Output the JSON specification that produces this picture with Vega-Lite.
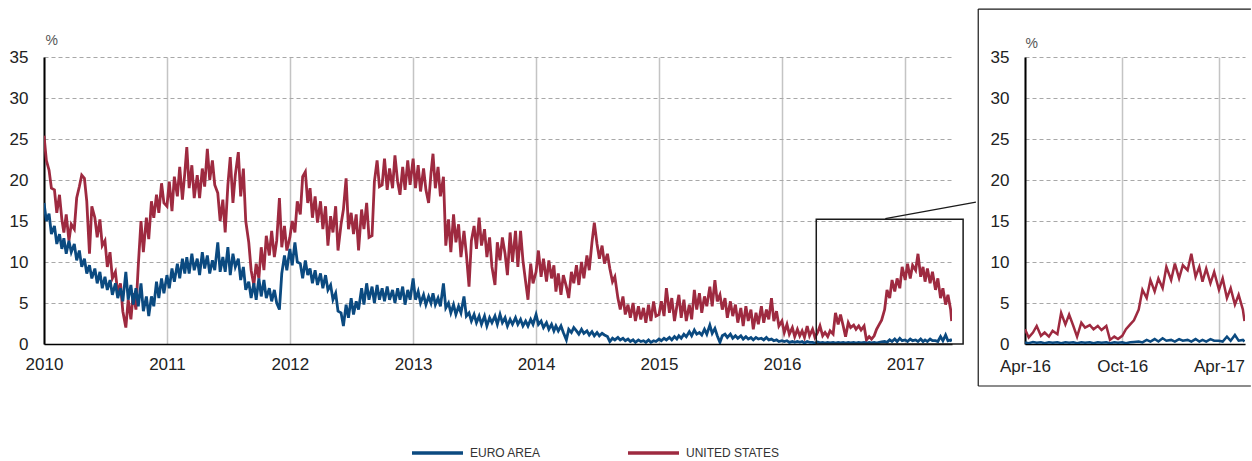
{
  "$schema": "https://vega.github.io/schema/vega-lite/v6.json",
  "padding": {"left": 9, "top": 8, "right": 0, "bottom": 0},
  "background": "white",
  "spacing": 0,
  "bounds": "full",
  "data": {"values": [
    {"d":"2010-01-01","e":17.2,"u":25.4},{"d":"2010-01-08","e":15.0,"u":22.4},{"d":"2010-01-16","e":15.9,"u":21.2},{"d":"2010-01-23","e":13.4,"u":19.0},
    {"d":"2010-02-01","e":14.4,"u":18.8},{"d":"2010-02-08","e":12.2,"u":16.0},{"d":"2010-02-16","e":13.4,"u":18.2},{"d":"2010-02-23","e":11.6,"u":15.2},
    {"d":"2010-03-01","e":12.9,"u":13.6},{"d":"2010-03-08","e":11.0,"u":15.8},{"d":"2010-03-16","e":12.6,"u":12.6},{"d":"2010-03-23","e":11.2,"u":14.6},
    {"d":"2010-04-01","e":12.2,"u":14.0},{"d":"2010-04-08","e":10.2,"u":17.8},{"d":"2010-04-16","e":11.4,"u":19.2},{"d":"2010-04-23","e":9.4,"u":20.6},
    {"d":"2010-05-01","e":10.4,"u":20.2},{"d":"2010-05-08","e":8.6,"u":17.4},{"d":"2010-05-16","e":9.6,"u":11.0},{"d":"2010-05-23","e":8.0,"u":16.8},
    {"d":"2010-06-01","e":9.2,"u":15.4},{"d":"2010-06-08","e":7.4,"u":13.0},{"d":"2010-06-16","e":8.8,"u":15.2},{"d":"2010-06-23","e":6.8,"u":12.0},
    {"d":"2010-07-01","e":8.2,"u":12.6},{"d":"2010-07-08","e":6.6,"u":9.4},{"d":"2010-07-16","e":7.8,"u":11.2},{"d":"2010-07-23","e":6.0,"u":8.0},
    {"d":"2010-08-01","e":7.4,"u":8.8},{"d":"2010-08-08","e":5.6,"u":6.2},{"d":"2010-08-16","e":6.8,"u":7.4},{"d":"2010-08-23","e":5.2,"u":4.0},
    {"d":"2010-09-01","e":8.8,"u":2.0},{"d":"2010-09-08","e":5.4,"u":5.4},{"d":"2010-09-16","e":7.2,"u":3.0},{"d":"2010-09-23","e":4.8,"u":6.2},
    {"d":"2010-10-01","e":6.8,"u":4.2},{"d":"2010-10-08","e":4.6,"u":9.6},{"d":"2010-10-16","e":7.4,"u":15.0},{"d":"2010-10-23","e":4.0,"u":11.2},
    {"d":"2010-11-01","e":5.8,"u":15.4},{"d":"2010-11-08","e":3.4,"u":12.8},{"d":"2010-11-16","e":5.8,"u":17.4},{"d":"2010-11-23","e":4.6,"u":15.4},
    {"d":"2010-12-01","e":7.6,"u":18.2},{"d":"2010-12-08","e":5.6,"u":16.0},{"d":"2010-12-16","e":8.0,"u":19.6},{"d":"2010-12-23","e":6.2,"u":17.2},
    {"d":"2011-01-01","e":8.4,"u":16.8},{"d":"2011-01-08","e":6.8,"u":19.8},{"d":"2011-01-16","e":9.2,"u":16.2},{"d":"2011-01-23","e":7.6,"u":20.4},
    {"d":"2011-02-01","e":9.8,"u":18.0},{"d":"2011-02-08","e":8.0,"u":21.6},{"d":"2011-02-16","e":10.4,"u":17.6},{"d":"2011-02-23","e":8.6,"u":20.8},
    {"d":"2011-03-01","e":10.6,"u":24.0},{"d":"2011-03-08","e":8.6,"u":19.0},{"d":"2011-03-16","e":11.0,"u":21.8},{"d":"2011-03-23","e":9.0,"u":17.8},
    {"d":"2011-04-01","e":10.4,"u":20.6},{"d":"2011-04-08","e":8.4,"u":17.8},{"d":"2011-04-16","e":11.2,"u":21.4},{"d":"2011-04-23","e":9.2,"u":19.2},
    {"d":"2011-05-01","e":10.8,"u":23.8},{"d":"2011-05-08","e":8.6,"u":20.0},{"d":"2011-05-16","e":10.2,"u":22.4},{"d":"2011-05-23","e":9.0,"u":19.4},
    {"d":"2011-06-01","e":12.4,"u":18.4},{"d":"2011-06-08","e":8.8,"u":15.0},{"d":"2011-06-16","e":10.6,"u":17.6},{"d":"2011-06-23","e":8.8,"u":13.6},
    {"d":"2011-07-01","e":11.8,"u":19.4},{"d":"2011-07-08","e":8.4,"u":22.8},{"d":"2011-07-16","e":11.0,"u":17.2},{"d":"2011-07-23","e":9.4,"u":20.6},
    {"d":"2011-08-01","e":10.4,"u":23.4},{"d":"2011-08-08","e":7.8,"u":18.0},{"d":"2011-08-16","e":9.4,"u":21.4},{"d":"2011-08-23","e":6.6,"u":15.0},
    {"d":"2011-09-01","e":7.6,"u":12.4},{"d":"2011-09-08","e":5.6,"u":9.0},{"d":"2011-09-16","e":7.4,"u":7.2},{"d":"2011-09-23","e":5.4,"u":9.8},
    {"d":"2011-10-01","e":8.0,"u":8.0},{"d":"2011-10-08","e":5.8,"u":11.8},{"d":"2011-10-16","e":7.8,"u":9.0},{"d":"2011-10-23","e":5.6,"u":13.2},
    {"d":"2011-11-01","e":6.8,"u":10.8},{"d":"2011-11-08","e":5.2,"u":13.8},{"d":"2011-11-16","e":6.6,"u":10.6},{"d":"2011-11-23","e":5.0,"u":12.6},
    {"d":"2011-12-01","e":4.2,"u":17.8},{"d":"2011-12-08","e":8.6,"u":11.8},{"d":"2011-12-16","e":10.8,"u":14.4},{"d":"2011-12-23","e":9.0,"u":11.4},
    {"d":"2012-01-01","e":11.6,"u":13.0},{"d":"2012-01-08","e":9.6,"u":15.0},{"d":"2012-01-16","e":12.4,"u":13.6},{"d":"2012-01-23","e":10.0,"u":17.4},
    {"d":"2012-02-01","e":9.8,"u":15.8},{"d":"2012-02-08","e":8.0,"u":20.4},{"d":"2012-02-16","e":10.2,"u":21.0},{"d":"2012-02-23","e":8.4,"u":17.2},
    {"d":"2012-03-01","e":9.2,"u":19.0},{"d":"2012-03-08","e":7.4,"u":15.4},{"d":"2012-03-16","e":9.0,"u":18.0},{"d":"2012-03-23","e":7.2,"u":14.8},
    {"d":"2012-04-01","e":8.6,"u":17.4},{"d":"2012-04-08","e":6.8,"u":14.0},{"d":"2012-04-16","e":8.4,"u":16.8},{"d":"2012-04-23","e":6.6,"u":12.0},
    {"d":"2012-05-01","e":7.2,"u":15.6},{"d":"2012-05-08","e":5.4,"u":13.6},{"d":"2012-05-16","e":6.2,"u":16.8},{"d":"2012-05-23","e":4.0,"u":11.4},
    {"d":"2012-06-01","e":3.8,"u":14.6},{"d":"2012-06-08","e":2.2,"u":16.4},{"d":"2012-06-16","e":4.8,"u":20.2},{"d":"2012-06-23","e":3.2,"u":14.0},
    {"d":"2012-07-01","e":5.6,"u":16.0},{"d":"2012-07-08","e":3.6,"u":13.4},{"d":"2012-07-16","e":5.2,"u":15.8},{"d":"2012-07-23","e":4.2,"u":11.4},
    {"d":"2012-08-01","e":6.8,"u":16.4},{"d":"2012-08-08","e":4.8,"u":14.0},{"d":"2012-08-16","e":7.4,"u":17.2},{"d":"2012-08-23","e":5.4,"u":13.0},
    {"d":"2012-09-01","e":7.0,"u":13.2},{"d":"2012-09-08","e":5.0,"u":19.8},{"d":"2012-09-16","e":7.2,"u":22.4},{"d":"2012-09-23","e":5.4,"u":19.2},
    {"d":"2012-10-01","e":6.8,"u":19.4},{"d":"2012-10-08","e":5.2,"u":22.6},{"d":"2012-10-16","e":7.0,"u":18.8},{"d":"2012-10-23","e":5.4,"u":21.4},
    {"d":"2012-11-01","e":6.6,"u":19.0},{"d":"2012-11-08","e":5.0,"u":23.0},{"d":"2012-11-16","e":6.8,"u":19.8},{"d":"2012-11-23","e":5.4,"u":18.2},
    {"d":"2012-12-01","e":7.0,"u":21.6},{"d":"2012-12-08","e":4.8,"u":18.8},{"d":"2012-12-16","e":6.6,"u":22.4},{"d":"2012-12-23","e":5.4,"u":19.4},
    {"d":"2013-01-01","e":8.0,"u":22.6},{"d":"2013-01-08","e":5.4,"u":19.0},{"d":"2013-01-16","e":6.4,"u":21.8},{"d":"2013-01-23","e":5.0,"u":18.6},
    {"d":"2013-02-01","e":6.0,"u":21.4},{"d":"2013-02-08","e":4.8,"u":18.8},{"d":"2013-02-16","e":5.8,"u":17.2},{"d":"2013-02-23","e":5.0,"u":20.8},
    {"d":"2013-03-01","e":6.2,"u":23.2},{"d":"2013-03-08","e":4.8,"u":19.0},{"d":"2013-03-16","e":5.6,"u":21.6},{"d":"2013-03-23","e":4.6,"u":18.0},
    {"d":"2013-04-01","e":7.4,"u":20.4},{"d":"2013-04-08","e":4.4,"u":12.0},{"d":"2013-04-16","e":5.0,"u":15.2},{"d":"2013-04-23","e":3.8,"u":11.2},
    {"d":"2013-05-01","e":4.8,"u":15.8},{"d":"2013-05-08","e":3.6,"u":12.4},{"d":"2013-05-16","e":4.6,"u":14.6},{"d":"2013-05-23","e":3.8,"u":10.6},
    {"d":"2013-06-01","e":5.8,"u":13.8},{"d":"2013-06-08","e":3.4,"u":11.0},{"d":"2013-06-16","e":3.8,"u":7.0},{"d":"2013-06-23","e":2.8,"u":12.6},
    {"d":"2013-07-01","e":3.6,"u":14.4},{"d":"2013-07-08","e":2.6,"u":11.6},{"d":"2013-07-16","e":3.4,"u":15.4},{"d":"2013-07-23","e":2.4,"u":12.0},
    {"d":"2013-08-01","e":3.4,"u":14.0},{"d":"2013-08-08","e":2.2,"u":10.6},{"d":"2013-08-16","e":3.2,"u":13.0},{"d":"2013-08-23","e":2.6,"u":9.4},
    {"d":"2013-09-01","e":3.4,"u":7.2},{"d":"2013-09-08","e":2.4,"u":12.4},{"d":"2013-09-16","e":3.6,"u":10.2},{"d":"2013-09-23","e":2.6,"u":13.0},
    {"d":"2013-10-01","e":3.2,"u":11.0},{"d":"2013-10-08","e":2.2,"u":8.4},{"d":"2013-10-16","e":3.0,"u":13.6},{"d":"2013-10-23","e":2.4,"u":10.0},
    {"d":"2013-11-01","e":3.2,"u":13.8},{"d":"2013-11-08","e":2.4,"u":9.4},{"d":"2013-11-16","e":3.0,"u":13.8},{"d":"2013-11-23","e":2.2,"u":10.2},
    {"d":"2013-12-01","e":2.8,"u":7.6},{"d":"2013-12-08","e":2.2,"u":5.4},{"d":"2013-12-16","e":3.0,"u":9.8},{"d":"2013-12-23","e":2.4,"u":7.4},
    {"d":"2014-01-01","e":3.6,"u":8.8},{"d":"2014-01-08","e":2.4,"u":11.4},{"d":"2014-01-16","e":2.8,"u":8.2},{"d":"2014-01-23","e":2.0,"u":10.4},
    {"d":"2014-02-01","e":2.6,"u":7.6},{"d":"2014-02-08","e":1.8,"u":10.2},{"d":"2014-02-16","e":2.4,"u":8.0},{"d":"2014-02-23","e":1.6,"u":9.6},
    {"d":"2014-03-01","e":2.2,"u":6.4},{"d":"2014-03-08","e":1.6,"u":8.6},{"d":"2014-03-16","e":2.2,"u":6.0},{"d":"2014-03-23","e":1.4,"u":8.4},
    {"d":"2014-04-01","e":0.5,"u":7.0},{"d":"2014-04-08","e":1.8,"u":5.6},{"d":"2014-04-16","e":1.4,"u":8.8},{"d":"2014-04-23","e":2.0,"u":7.4},
    {"d":"2014-05-01","e":1.6,"u":9.6},{"d":"2014-05-08","e":1.2,"u":7.2},{"d":"2014-05-16","e":1.8,"u":10.0},{"d":"2014-05-23","e":1.3,"u":8.0},
    {"d":"2014-06-01","e":1.6,"u":10.8},{"d":"2014-06-08","e":1.1,"u":9.0},{"d":"2014-06-16","e":1.5,"u":12.4},{"d":"2014-06-23","e":1.0,"u":14.8},
    {"d":"2014-07-01","e":1.4,"u":12.2},{"d":"2014-07-08","e":1.0,"u":10.4},{"d":"2014-07-16","e":1.3,"u":12.0},{"d":"2014-07-23","e":1.1,"u":9.8},
    {"d":"2014-08-01","e":0.9,"u":11.0},{"d":"2014-08-08","e":0.3,"u":9.2},{"d":"2014-08-16","e":0.7,"u":7.6},{"d":"2014-08-23","e":0.5,"u":8.2},
    {"d":"2014-09-01","e":0.8,"u":5.6},{"d":"2014-09-08","e":0.5,"u":4.2},{"d":"2014-09-16","e":0.7,"u":5.8},{"d":"2014-09-23","e":0.4,"u":3.6},
    {"d":"2014-10-01","e":0.6,"u":4.8},{"d":"2014-10-08","e":0.3,"u":3.2},{"d":"2014-10-16","e":0.5,"u":5.0},{"d":"2014-10-23","e":0.2,"u":2.8},
    {"d":"2014-11-01","e":0.5,"u":4.6},{"d":"2014-11-08","e":0.3,"u":3.0},{"d":"2014-11-16","e":0.4,"u":4.4},{"d":"2014-11-23","e":0.2,"u":2.6},
    {"d":"2014-12-01","e":0.5,"u":4.8},{"d":"2014-12-08","e":0.2,"u":2.8},{"d":"2014-12-16","e":0.4,"u":5.2},{"d":"2014-12-23","e":0.3,"u":3.4},
    {"d":"2015-01-01","e":0.6,"u":3.6},{"d":"2015-01-08","e":0.4,"u":5.2},{"d":"2015-01-16","e":0.7,"u":3.4},{"d":"2015-01-23","e":0.5,"u":6.8},
    {"d":"2015-02-01","e":0.8,"u":3.8},{"d":"2015-02-08","e":0.5,"u":5.6},{"d":"2015-02-16","e":0.9,"u":2.8},{"d":"2015-02-23","e":0.6,"u":4.6},
    {"d":"2015-03-01","e":1.0,"u":6.0},{"d":"2015-03-08","e":0.7,"u":3.2},{"d":"2015-03-16","e":1.2,"u":5.4},{"d":"2015-03-23","e":0.9,"u":2.8},
    {"d":"2015-04-01","e":1.5,"u":4.8},{"d":"2015-04-08","e":1.0,"u":3.0},{"d":"2015-04-16","e":1.7,"u":6.6},{"d":"2015-04-23","e":1.2,"u":4.2},
    {"d":"2015-05-01","e":1.4,"u":6.2},{"d":"2015-05-08","e":1.1,"u":3.8},{"d":"2015-05-16","e":1.8,"u":5.8},{"d":"2015-05-23","e":1.2,"u":4.6},
    {"d":"2015-06-01","e":2.3,"u":7.0},{"d":"2015-06-08","e":1.3,"u":4.6},{"d":"2015-06-16","e":1.9,"u":7.8},{"d":"2015-06-23","e":1.0,"u":5.2},
    {"d":"2015-07-01","e":0.2,"u":6.0},{"d":"2015-07-08","e":1.0,"u":4.2},{"d":"2015-07-16","e":1.2,"u":5.6},{"d":"2015-07-23","e":0.8,"u":3.2},
    {"d":"2015-08-01","e":1.2,"u":5.2},{"d":"2015-08-08","e":0.7,"u":3.4},{"d":"2015-08-16","e":1.0,"u":4.8},{"d":"2015-08-23","e":0.7,"u":2.6},
    {"d":"2015-09-01","e":1.0,"u":4.4},{"d":"2015-09-08","e":0.6,"u":2.2},{"d":"2015-09-16","e":0.9,"u":4.6},{"d":"2015-09-23","e":0.6,"u":2.8},
    {"d":"2015-10-01","e":0.8,"u":4.2},{"d":"2015-10-08","e":0.5,"u":1.8},{"d":"2015-10-16","e":0.8,"u":3.8},{"d":"2015-10-23","e":0.6,"u":2.4},
    {"d":"2015-11-01","e":0.7,"u":4.6},{"d":"2015-11-08","e":0.5,"u":2.6},{"d":"2015-11-16","e":0.8,"u":4.2},{"d":"2015-11-23","e":0.5,"u":3.0},
    {"d":"2015-12-01","e":0.6,"u":5.6},{"d":"2015-12-08","e":0.4,"u":2.8},{"d":"2015-12-16","e":0.5,"u":4.0},{"d":"2015-12-23","e":0.3,"u":2.2},
    {"d":"2016-01-01","e":0.4,"u":2.8},{"d":"2016-01-08","e":0.3,"u":1.4},{"d":"2016-01-16","e":0.4,"u":2.4},{"d":"2016-01-23","e":0.2,"u":1.2},
    {"d":"2016-02-01","e":0.3,"u":2.0},{"d":"2016-02-08","e":0.2,"u":0.9},{"d":"2016-02-16","e":0.3,"u":1.8},{"d":"2016-02-23","e":0.2,"u":1.0},
    {"d":"2016-03-01","e":0.3,"u":1.6},{"d":"2016-03-08","e":0.1,"u":0.8},{"d":"2016-03-16","e":0.3,"u":2.2},{"d":"2016-03-23","e":0.2,"u":1.0},
    {"d":"2016-04-01","e":0.2,"u":1.8},{"d":"2016-04-08","e":0.1,"u":0.8},{"d":"2016-04-16","e":0.25,"u":1.4},{"d":"2016-04-23","e":0.15,"u":2.2},
    {"d":"2016-05-01","e":0.2,"u":1.0},{"d":"2016-05-08","e":0.1,"u":1.4},{"d":"2016-05-16","e":0.2,"u":0.9},{"d":"2016-05-23","e":0.15,"u":1.6},
    {"d":"2016-06-01","e":0.2,"u":1.2},{"d":"2016-06-08","e":0.1,"u":3.8},{"d":"2016-06-16","e":0.2,"u":2.4},{"d":"2016-06-23","e":0.15,"u":3.6},
    {"d":"2016-07-01","e":0.2,"u":2.2},{"d":"2016-07-08","e":0.1,"u":0.9},{"d":"2016-07-16","e":0.2,"u":2.6},{"d":"2016-07-23","e":0.15,"u":2.0},
    {"d":"2016-08-01","e":0.2,"u":2.3},{"d":"2016-08-08","e":0.1,"u":1.8},{"d":"2016-08-16","e":0.2,"u":2.2},{"d":"2016-08-23","e":0.15,"u":1.7},
    {"d":"2016-09-01","e":0.2,"u":2.2},{"d":"2016-09-08","e":0.1,"u":0.5},{"d":"2016-09-16","e":0.2,"u":0.9},{"d":"2016-09-23","e":0.15,"u":0.6},
    {"d":"2016-10-01","e":0.2,"u":1.0},{"d":"2016-10-08","e":0.1,"u":1.8},{"d":"2016-10-16","e":0.2,"u":2.4},{"d":"2016-10-23","e":0.25,"u":2.9},
    {"d":"2016-11-01","e":0.3,"u":4.2},{"d":"2016-11-08","e":0.2,"u":6.6},{"d":"2016-11-16","e":0.5,"u":5.6},{"d":"2016-11-23","e":0.3,"u":7.8},
    {"d":"2016-12-01","e":0.6,"u":6.4},{"d":"2016-12-08","e":0.3,"u":8.0},{"d":"2016-12-16","e":0.7,"u":6.8},{"d":"2016-12-23","e":0.4,"u":9.4},
    {"d":"2017-01-01","e":0.5,"u":7.8},{"d":"2017-01-08","e":0.3,"u":9.8},{"d":"2017-01-16","e":0.6,"u":8.0},{"d":"2017-01-23","e":0.4,"u":9.6},
    {"d":"2017-02-01","e":0.5,"u":9.0},{"d":"2017-02-08","e":0.3,"u":11.0},{"d":"2017-02-16","e":0.6,"u":8.2},{"d":"2017-02-23","e":0.3,"u":9.4},
    {"d":"2017-03-01","e":0.5,"u":7.6},{"d":"2017-03-08","e":0.3,"u":9.2},{"d":"2017-03-16","e":0.6,"u":7.4},{"d":"2017-03-23","e":0.4,"u":8.8},
    {"d":"2017-04-01","e":0.4,"u":6.6},{"d":"2017-04-08","e":0.3,"u":8.0},{"d":"2017-04-16","e":0.9,"u":5.6},{"d":"2017-04-23","e":0.4,"u":6.8},
    {"d":"2017-05-01","e":1.1,"u":4.8},{"d":"2017-05-08","e":0.4,"u":6.0},{"d":"2017-05-16","e":0.5,"u":4.2},{"d":"2017-05-19","e":0.3,"u":2.8}
  ]},
  "hconcat": [
    {
      "width": 908,
      "height": 287,
      "layer": [
        {
          "transform": [{"fold": ["u", "e"], "as": ["s", "v"]}],
          "mark": {"type": "line", "strokeWidth": 2.8, "strokeJoin": "miter", "clip": true},
          "encoding": {
            "x": {"field": "d", "type": "temporal",
                  "scale": {"domain": [{"year": 2010, "month": 1, "date": 1}, {"year": 2017, "month": 5, "date": 20}], "nice": false},
                  "axis": {"title": null, "format": "%Y", "grid": true,
                           "values": [{"year": 2010, "month": 1, "date": 1}, {"year": 2011, "month": 1, "date": 1}, {"year": 2012, "month": 1, "date": 1}, {"year": 2013, "month": 1, "date": 1}, {"year": 2014, "month": 1, "date": 1}, {"year": 2015, "month": 1, "date": 1}, {"year": 2016, "month": 1, "date": 1}, {"year": 2017, "month": 1, "date": 1}]}},
            "y": {"field": "v", "type": "quantitative",
                  "scale": {"domain": [0, 35], "nice": false},
                  "axis": {"title": "%", "titleX": 1, "titleY": -13, "values": [0, 5, 10, 15, 20, 25, 30, 35]}},
            "color": {"field": "s", "type": "nominal",
                      "scale": {"domain": ["e", "u"], "range": ["#0b4a80", "#9e2a40"]},
                      "legend": {"title": null, "orient": "none", "legendX": 366, "legendY": 388, "direction": "horizontal",
                                 "labelExpr": "datum.value == 'e' ? 'EURO AREA' : 'UNITED STATES'"}}
          }
        },
        {
          "data": {"values": [{"d": "2016-04-12", "d2": "2017-06-22", "v": 0, "v2": 15.2}]},
          "mark": {"type": "rect", "fill": "transparent", "stroke": "#1a1a1a", "strokeWidth": 1.5, "clip": false},
          "encoding": {
            "x": {"field": "d", "type": "temporal", "scale": {"domain": [{"year": 2010, "month": 1, "date": 1}, {"year": 2017, "month": 5, "date": 20}], "nice": false}},
            "x2": {"field": "d2"},
            "y": {"field": "v", "type": "quantitative", "scale": {"domain": [0, 35], "nice": false}},
            "y2": {"field": "v2"}
          }
        },
        {
          "data": {"values": [{"d": "2016-11-03", "d2": "2017-07-30", "v": 15.3, "v2": 17.3}]},
          "mark": {"type": "rule", "stroke": "#1a1a1a", "strokeWidth": 1.2, "clip": false},
          "encoding": {
            "x": {"field": "d", "type": "temporal", "scale": {"domain": [{"year": 2010, "month": 1, "date": 1}, {"year": 2017, "month": 5, "date": 20}], "nice": false}},
            "x2": {"field": "d2"},
            "y": {"field": "v", "type": "quantitative", "scale": {"domain": [0, 35], "nice": false}},
            "y2": {"field": "v2"}
          }
        }
      ]
    },
    {
      "width": 220,
      "height": 287,
      "layer": [
        {
          "transform": [
            {"filter": {"field": "d", "gte": {"year": 2016, "month": 3, "date": 28}}},
            {"fold": ["u", "e"], "as": ["s", "v"]}
          ],
          "mark": {"type": "line", "strokeWidth": 2.5, "strokeJoin": "miter", "clip": true},
          "encoding": {
            "x": {"field": "d", "type": "temporal",
                  "scale": {"domain": [{"year": 2016, "month": 4, "date": 1}, {"year": 2017, "month": 5, "date": 20}], "nice": false},
                  "axis": {"title": null, "format": "%b-%y", "grid": true, "labelPadding": 14,
                           "values": [{"year": 2016, "month": 4, "date": 1}, {"year": 2016, "month": 10, "date": 1}, {"year": 2017, "month": 4, "date": 1}]}},
            "y": {"field": "v", "type": "quantitative",
                  "scale": {"domain": [0, 35], "nice": false},
                  "axis": {"title": "%", "titleX": 0, "titleY": -10, "values": [0, 5, 10, 15, 20, 25, 30, 35]}},
            "color": {"field": "s", "type": "nominal",
                      "scale": {"domain": ["e", "u"], "range": ["#0b4a80", "#9e2a40"]},
                      "legend": {"title": null, "orient": "none", "legendX": 366, "legendY": 388, "direction": "horizontal",
                                 "labelExpr": "datum.value == 'e' ? 'EURO AREA' : 'UNITED STATES'"}}
          }
        },
        {
          "data": {"values": [
            {"d": "2016-01-04", "d2": "2017-05-31", "v": 40.85, "v2": 40.85},
            {"d": "2016-01-04", "d2": "2017-05-31", "v": -5.12, "v2": -5.12},
            {"d": "2016-01-04", "d2": "2016-01-04", "v": -5.12, "v2": 40.85}
          ]},
          "mark": {"type": "rule", "stroke": "#1a1a1a", "strokeWidth": 1.2, "clip": false},
          "encoding": {
            "x": {"field": "d", "type": "temporal", "scale": {"domain": [{"year": 2016, "month": 4, "date": 1}, {"year": 2017, "month": 5, "date": 20}], "nice": false}},
            "x2": {"field": "d2"},
            "y": {"field": "v", "type": "quantitative", "scale": {"domain": [0, 35], "nice": false}},
            "y2": {"field": "v2"}
          }
        }
      ]
    }
  ],
  "config": {
    "view": {"stroke": null},
    "font": "Liberation Sans",
    "axis": {
      "labelFont": "Liberation Sans", "labelFontSize": 17, "labelColor": "#222",
      "titleFont": "Liberation Sans", "titleFontSize": 14, "titleFontWeight": "normal", "titleColor": "#555",
      "domainColor": "#000", "ticks": false
    },
    "axisY": {
      "gridDash": [4, 3], "gridColor": "#a8a8a8", "gridWidth": 1.2, "domainWidth": 2, "labelPadding": 16,
      "titleAngle": 0, "titleAlign": "left", "titleBaseline": "alphabetic"
    },
    "axisX": {
      "gridColor": "#c4c4c4", "gridWidth": 1.5, "domainWidth": 1.5, "labelPadding": 12, "labelFlush": false, "labelOverlap": false
    },
    "legend": {
      "symbolType": "stroke", "symbolSize": 2600, "symbolStrokeWidth": 3.5, "clipHeight": 16,
      "labelFont": "Liberation Sans", "labelFontSize": 12, "labelColor": "#333",
      "labelOffset": 5, "columnPadding": 85, "labelLimit": 300
    }
  }
}
